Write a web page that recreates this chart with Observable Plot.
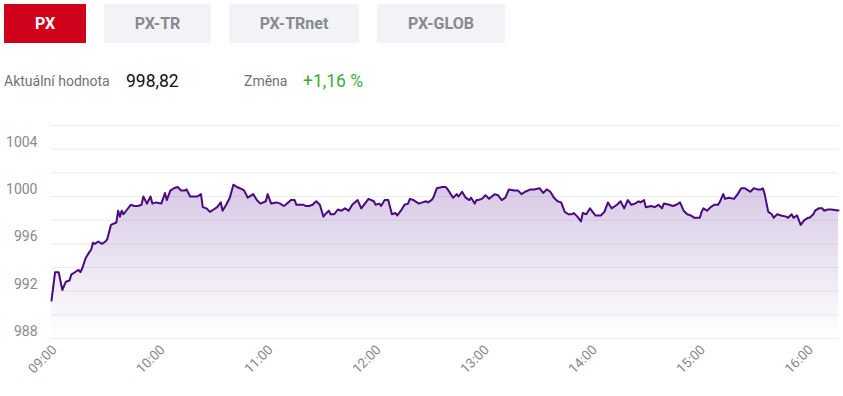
<!DOCTYPE html>
<html>
<head>
<meta charset="utf-8">
<script src="https://cdn.jsdelivr.net/npm/d3@7"></script>
<script src="https://cdn.jsdelivr.net/npm/@observablehq/plot@0.6"></script>
<style>
  html, body { margin: 0; padding: 0; background: #fff; }
  body { width: 843px; height: 396px; position: relative; overflow: hidden; font-family: Roboto, "Noto Sans", sans-serif; }
  .btn { position: absolute; top: 4px; height: 39px; line-height: 39px; text-align: center; font-weight: 700; font-size: 16px; background: #f3f3f7; color: #878a91; }
  .btn.active { background: #d0021b; color: #fff; }
  .lbl { position: absolute; top: 71px; line-height: 20px; white-space: nowrap; }
  #chart { position: absolute; left: 0; top: 110px; }
</style>
</head>
<body>
<div id="tabs"></div>
<div id="info"></div>
<div id="chart"></div>
<script>
// ---- data ----
const tabs = ["PX", "PX-TR", "PX-TRnet", "PX-GLOB"];
const currentLabel = "Aktuální hodnota";
const currentValue = "998,82";
const changeLabel = "Změna";
const changeValue = "+1,16 %";

const times = [
  "09:00","09:02","09:04","09:06","09:08","09:10","09:11","09:13","09:15","09:16",
  "09:17","09:19","09:21","09:22","09:23","09:24","09:26","09:28","09:30","09:31",
  "09:33","09:36","09:37","09:38","09:39","09:40","09:42","09:44","09:46","09:48",
  "09:50","09:51","09:53","09:55","09:56","09:58","10:01","10:03","10:04","10:06",
  "10:08","10:10","10:12","10:14","10:15","10:17","10:21","10:23","10:24","10:26",
  "10:28","10:30","10:32","10:34","10:35","10:37","10:39","10:41","10:43","10:46",
  "10:47","10:49","10:52","10:54","10:56","10:59","11:00","11:02","11:05","11:07",
  "11:09","11:10","11:13","11:15","11:16","11:18","11:20","11:21","11:23","11:25",
  "11:27","11:29","11:31","11:32","11:34","11:35","11:37","11:39","11:41","11:43",
  "11:45","11:47","11:50","11:52","11:54","11:56","11:59","12:00","12:02","12:03",
  "12:05","12:07","12:09","12:11","12:12","12:14","12:16","12:18","12:19","12:21",
  "12:24","12:26","12:28","12:29","12:31","12:32","12:34","12:37","12:39","12:40",
  "12:43","12:45","12:46","12:48","12:50","12:52","12:53","12:55","12:56","12:57",
  "12:59","13:01","13:03","13:06","13:08","13:10","13:12","13:14","13:17","13:19",
  "13:21","13:23","13:26","13:28","13:31","13:33","13:35","13:37","13:39","13:41",
  "13:43","13:45","13:47","13:49","13:50","13:52","13:54","13:55","13:57","13:59",
  "14:01","14:02","14:05","14:07","14:09","14:11","14:14","14:16","14:18","14:20",
  "14:22","14:24","14:26","14:27","14:29","14:30","14:33","14:35","14:37","14:39",
  "14:40","14:43","14:45","14:47","14:49","14:51","14:53","14:55","14:57","15:00",
  "15:01","15:02","15:04","15:06","15:08","15:10","15:11","15:13","15:14","15:16",
  "15:19","15:21","15:23","15:25","15:26","15:28","15:30","15:32","15:34","15:35",
  "15:36","15:38","15:40","15:41","15:43","15:45","15:48","15:49","15:51","15:52",
  "15:54","15:56","15:58","16:00","16:01","16:03","16:04","16:06","16:08","16:09",
  "16:11","16:13","16:17"
];
const values = [
  991.2,993.6,993.6,992.1,992.8,992.9,993.4,993.6,993.8,993.6,
  993.9,994.8,995.3,995.5,996.1,996.0,996.2,996.0,996.2,996.4,
  997.6,997.8,998.8,998.3,998.8,998.5,998.9,999.3,999.2,999.2,
  999.3,1000.0,999.4,1000.0,999.4,999.5,999.4,1000.3,999.7,1000.5,
  1000.7,1000.8,1000.5,1000.5,1000.6,1000.0,1000.0,1000.2,999.1,999.0,
  998.7,998.9,999.1,999.5,998.8,999.3,999.9,1001.0,1000.8,1000.6,
  1000.5,999.9,1000.2,999.7,999.4,999.6,1000.2,999.4,999.5,999.4,
  999.2,999.3,999.7,999.7,999.3,999.3,999.3,999.2,999.2,999.3,
  999.6,999.3,998.3,998.5,998.8,998.5,998.5,998.9,998.8,999.0,
  998.8,999.3,999.7,999.0,999.4,999.8,999.6,999.3,999.4,999.2,
  999.7,999.7,998.5,998.6,998.4,998.8,999.3,999.4,999.8,999.7,
  999.4,999.5,999.6,999.5,999.7,999.9,1000.7,1000.8,1000.8,1000.6,
  999.9,1000.2,1000.0,1000.4,999.9,999.7,999.9,999.4,999.7,999.7,
  999.8,1000.1,999.8,1000.2,1000.1,999.7,999.9,1000.6,1000.5,1000.5,
  1000.2,1000.4,1000.6,1000.6,1000.7,1000.3,1000.6,1000.4,999.9,999.6,
  999.5,998.7,998.5,998.5,998.6,998.3,997.9,998.6,998.5,999.0,
  998.6,998.4,998.4,998.7,999.5,999.0,999.3,999.6,999.0,999.7,
  999.3,999.4,999.6,999.5,999.7,999.1,999.2,999.1,999.3,999.0,
  999.4,999.3,999.2,999.3,999.5,998.8,998.5,998.4,998.2,998.2,
  998.7,999.0,998.8,999.1,999.3,999.3,999.5,1000.2,999.8,999.9,
  999.8,1000.2,1000.7,1000.7,1000.6,1000.4,1000.7,1000.6,1000.6,1000.7,
  1000.2,998.7,998.5,998.2,998.5,998.4,998.3,998.2,998.5,998.2,
  998.4,997.6,998.0,998.2,998.2,998.5,998.8,999.0,999.0,998.8,
  998.9,998.9,998.82
];
const xTickLabels = ["09:00","10:00","11:00","12:00","13:00","14:00","15:00","16:00"];
const xDomain = ["09:00","16:17"];
const yTickLabels = [988, 992, 996, 1000, 1004];
const gridValues = [988, 990, 992, 994, 996, 998, 1000, 1002, 1004, 1006];
const yDomain = [988, 1006];

// ---- header ----
const tabLeft = [4, 104, 229, 377];
const tabWidth = [82, 107, 130, 128];
const tabsEl = document.getElementById("tabs");
tabs.forEach((t, i) => {
  const d = document.createElement("div");
  d.className = "btn" + (i === 0 ? " active" : "");
  d.style.left = tabLeft[i] + "px";
  d.style.width = tabWidth[i] + "px";
  d.textContent = t;
  tabsEl.appendChild(d);
});
const info = document.getElementById("info");
[[currentLabel, 4, "14px", "#727272"], [currentValue, 126, "17.5px", "#111"],
 [changeLabel, 244, "14px", "#727272"], [changeValue, 303, "17.5px", "#3aaa3a"]].forEach(([t, x, fs, c]) => {
  const s = document.createElement("div");
  s.className = "lbl";
  s.style.left = x + "px";
  s.style.fontSize = fs;
  s.style.color = c;
  s.textContent = t;
  info.appendChild(s);
});

// ---- chart ----
const parseT = (s) => { const [h, m] = s.split(":").map(Number); return new Date(Date.UTC(2024, 0, 1, h, m)); };
const data = times.map((t, i) => ({ t: parseT(t), v: values[i] }));

function gradientDefs() {
  const ns = "http://www.w3.org/2000/svg";
  const defs = document.createElementNS(ns, "defs");
  const lg = document.createElementNS(ns, "linearGradient");
  lg.setAttribute("id", "pxgrad");
  lg.setAttribute("x1", "0"); lg.setAttribute("y1", "0");
  lg.setAttribute("x2", "0"); lg.setAttribute("y2", "1");
  [["0%", "#7a4aa6", 0.30], ["100%", "#7a4aa6", 0.0]].forEach(([o, c, a]) => {
    const st = document.createElementNS(ns, "stop");
    st.setAttribute("offset", o);
    st.setAttribute("stop-color", c);
    st.setAttribute("stop-opacity", a);
    lg.appendChild(st);
  });
  defs.appendChild(lg);
  return defs;
}

const chart = Plot.plot({
  width: 843,
  height: 286,
  marginLeft: 51,
  marginRight: 5,
  marginTop: 15,
  marginBottom: 58,
  style: { fontFamily: "Roboto, sans-serif", color: "#8a8a8a", background: "transparent" },
  x: { type: "utc", domain: xDomain.map(parseT) },
  y: { domain: yDomain },
  marks: [
    gradientDefs,
    Plot.ruleY(gridValues, { stroke: "#ececec", strokeWidth: 1 }),
    Plot.areaY(data, { x: "t", y1: yDomain[0], y2: "v", fill: "url(#pxgrad)" }),
    Plot.lineY(data, { x: "t", y: "v", stroke: "#4b0a80", strokeWidth: 2, strokeLinejoin: "round" }),
    Plot.axisY(yTickLabels, { tickSize: 0, tickPadding: 14, dy: -7, fontSize: 14, fill: "#8a8a8a", tickFormat: "d", label: null }),
    Plot.axisX(xTickLabels.map(parseT), { tickSize: 0, tickPadding: 9, dx: 3, tickRotate: -45, fontSize: 13.5, fill: "#8a8a8a", tickFormat: d3.utcFormat("%H:%M"), label: null })
  ]
});
document.getElementById("chart").appendChild(chart);
</script>
</body>
</html>
